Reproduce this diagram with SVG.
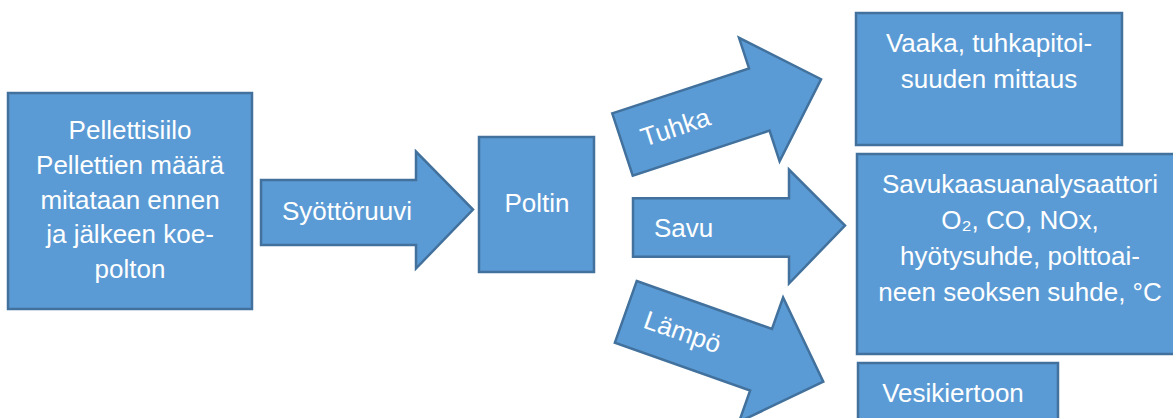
<svg xmlns="http://www.w3.org/2000/svg" width="1173" height="418" viewBox="0 0 1173 418">
  <style>
    .shape { fill: #5B9BD5; stroke: #41719C; stroke-width: 2.5; stroke-linejoin: miter; }
    .lbl { fill: #FFFFFF; font-family: "Liberation Sans", Arial, sans-serif; font-size: 26px; }
    .c { text-anchor: middle; }
  </style>
  <rect width="1173" height="418" fill="#FFFFFF"/>

  <g id="connectors">
    <g id="arrow-syottoruuvi" transform="translate(261,212.5)">
      <path class="shape" d="M0,-32.5 H155 V-61 L212,-3 L155,56 V32.5 H0 Z"/>
      <text class="lbl" x="21" y="7">Syöttöruuvi</text>
    </g>
    <g id="arrow-tuhka" transform="translate(622.5,144.5) rotate(-18.2)">
      <path class="shape" d="M0,-32.8 H144 V-65 L209,0 L144,65 V32.8 H0 Z"/>
      <text class="lbl" x="20" y="9">Tuhka</text>
    </g>
    <g id="arrow-savu" transform="translate(633,227.5)">
      <path class="shape" d="M0,-29.2 H156 V-58 L212,-2 L156,56 V29.2 H0 Z"/>
      <text class="lbl" x="21" y="9">Savu</text>
    </g>
    <g id="arrow-lampo" transform="translate(625.8,311.8) rotate(19.5)">
      <path class="shape" d="M0,-32.7 H143.5 V-66 L209.5,0 L143.5,66 V32.7 H0 Z"/>
      <text class="lbl" x="20.5" y="9">Lämpö</text>
    </g>
  </g>

  <g id="node-pellettisiilo">
    <rect class="shape" x="8" y="93" width="244" height="216"/>
    <text class="lbl c" x="130" y="139">Pellettisiilo</text>
    <text class="lbl c" x="130" y="174">Pellettien määrä</text>
    <text class="lbl c" x="130" y="208.5">mitataan ennen</text>
    <text class="lbl c" x="130" y="243">ja jälkeen koe-</text>
    <text class="lbl c" x="130" y="278">polton</text>
  </g>

  <g id="node-poltin">
    <rect class="shape" x="479" y="137" width="115" height="135"/>
    <text class="lbl c" x="537" y="211.5">Poltin</text>
  </g>

  <g id="node-vaaka">
    <rect class="shape" x="856" y="13" width="266" height="132"/>
    <text class="lbl c" x="989" y="52">Vaaka, tuhkapitoi-</text>
    <text class="lbl c" x="989" y="88">suuden mittaus</text>
  </g>

  <g id="node-savukaasuanalysaattori">
    <rect class="shape" x="857" y="154" width="330" height="200"/>
    <text class="lbl c" x="1020" y="193">Savukaasuanalysaattori</text>
    <text class="lbl c" x="1020" y="229">O₂, CO, NOx,</text>
    <text class="lbl c" x="1020" y="265">hyötysuhde, polttoai-</text>
    <text class="lbl c" x="1020" y="301">neen seoksen suhde, °C</text>
  </g>

  <g id="node-vesikiertoon">
    <rect class="shape" x="858" y="363" width="200" height="70"/>
    <text class="lbl c" x="953" y="401.5">Vesikiertoon</text>
  </g>
</svg>
